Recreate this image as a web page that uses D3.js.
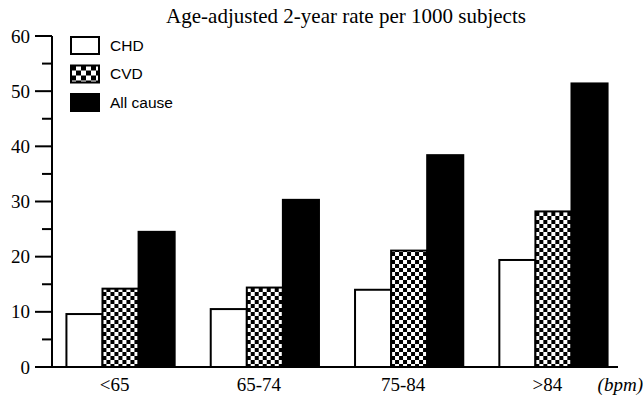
<!DOCTYPE html>
<html lang="en">
<head>
<meta charset="utf-8">
<title>Age-adjusted 2-year rate</title>
<script src="https://d3js.org/d3.v7.min.js"></script>
<style>
body { margin: 0; background: #fff; }
.serif { font-family: "Liberation Serif", "Times New Roman", serif; }
.sans { font-family: "Liberation Sans", Arial, sans-serif; }
</style>
</head>
<body>
<svg width="643" height="403"></svg>
<script>
var groups = ["<65", "65-74", "75-84", ">84"];
var series = ["CHD", "CVD", "All cause"];
var chd = [9.6, 10.5, 14.0, 19.4];
var cvd = [14.2, 14.4, 21.1, 28.2];
var allCause = [24.5, 30.3, 38.4, 51.4];
var yTicks = [0, 10, 20, 30, 40, 50, 60];

var svg = d3.select("svg");
var defs = svg.append("defs");

function checker(id, s) {
  var p = defs.append("pattern").attr("id", id)
      .attr("patternUnits", "userSpaceOnUse")
      .attr("width", s * 2).attr("height", s * 2);
  p.append("rect").attr("width", s * 2).attr("height", s * 2).attr("fill", "#fff");
  p.append("rect").attr("width", s).attr("height", s).attr("fill", "#000");
  p.append("rect").attr("x", s).attr("y", s).attr("width", s).attr("height", s).attr("fill", "#000");
}
checker("chk", 4);
checker("chkLeg", 5);

var fills = ["#fff", "url(#chk)", "#000"];
var legFills = ["#fff", "url(#chkLeg)", "#000"];

var y = d3.scaleLinear().domain([0, 60]).range([367, 36]);
var x = d3.scaleBand().domain(groups).range([52, 622])
    .paddingInner(0.25).paddingOuter(0.1);
var xs = d3.scaleBand().domain(series).range([0, x.bandwidth()]);

var data = groups.map(function(g, i) {
  return {group: g, vals: [chd[i], cvd[i], allCause[i]]};
});

// bars
var gg = svg.selectAll("g.grp").data(data).enter().append("g")
    .attr("class", "grp")
    .attr("transform", function(d) { return "translate(" + x(d.group) + ",0)"; });

gg.selectAll("rect").data(function(d) { return d.vals; }).enter().append("rect")
    .attr("x", function(d, i) { return xs(series[i]); })
    .attr("y", function(d) { return y(d); })
    .attr("width", xs.bandwidth())
    .attr("height", function(d) { return y(0) - y(d); })
    .attr("fill", function(d, i) { return fills[i]; })
    .attr("stroke", "#000")
    .attr("stroke-width", 2);

// y axis
var ya = svg.append("g").attr("transform", "translate(52,0)");
ya.append("line").attr("y1", y(60)).attr("y2", y(0))
    .attr("stroke", "#000").attr("stroke-width", 2);
ya.selectAll("line.tk").data(d3.range(5, 61, 5)).enter().append("line")
    .attr("class", "tk")
    .attr("x1", function(d) { return d % 10 === 0 ? -17 : -10; }).attr("x2", 0)
    .attr("y1", function(d) { return y(d); }).attr("y2", function(d) { return y(d); })
    .attr("stroke", "#000").attr("stroke-width", 2);
ya.selectAll("text").data(yTicks).enter().append("text")
    .attr("class", "serif")
    .attr("x", -22).attr("y", function(d) { return y(d); })
    .attr("dy", "0.35em").attr("text-anchor", "end")
    .attr("font-size", 19)
    .text(function(d) { return d; });

// x axis
svg.append("line").attr("x1", 35).attr("x2", 618)
    .attr("y1", y(0)).attr("y2", y(0))
    .attr("stroke", "#000").attr("stroke-width", 2);
svg.selectAll("text.xl").data(groups).enter().append("text")
    .attr("class", "serif xl")
    .attr("x", function(d) { return x(d) + x.bandwidth() / 2 - 6; })
    .attr("y", 391).attr("text-anchor", "middle")
    .attr("font-size", 19)
    .text(function(d) { return d; });
svg.append("text").attr("class", "serif")
    .attr("x", 643).attr("y", 391).attr("text-anchor", "end")
    .attr("font-size", 19).attr("font-style", "italic")
    .text("(bpm)");

// title
svg.append("text").attr("class", "serif")
    .attr("x", 346).attr("y", 23).attr("text-anchor", "middle")
    .attr("font-size", 21)
    .text("Age-adjusted 2-year rate per 1000 subjects");

// legend
var leg = svg.selectAll("g.leg").data(series).enter().append("g")
    .attr("class", "leg")
    .attr("transform", function(d, i) { return "translate(71," + (37 + i * 28.5) + ")"; });
leg.append("rect").attr("width", 28).attr("height", 17)
    .attr("fill", function(d, i) { return legFills[i]; })
    .attr("stroke", "#000").attr("stroke-width", 2);
leg.append("text").attr("class", "sans")
    .attr("x", 39).attr("y", 8.5).attr("dy", "0.35em")
    .attr("font-size", 15.5)
    .text(function(d) { return d; });
</script>
</body>
</html>
